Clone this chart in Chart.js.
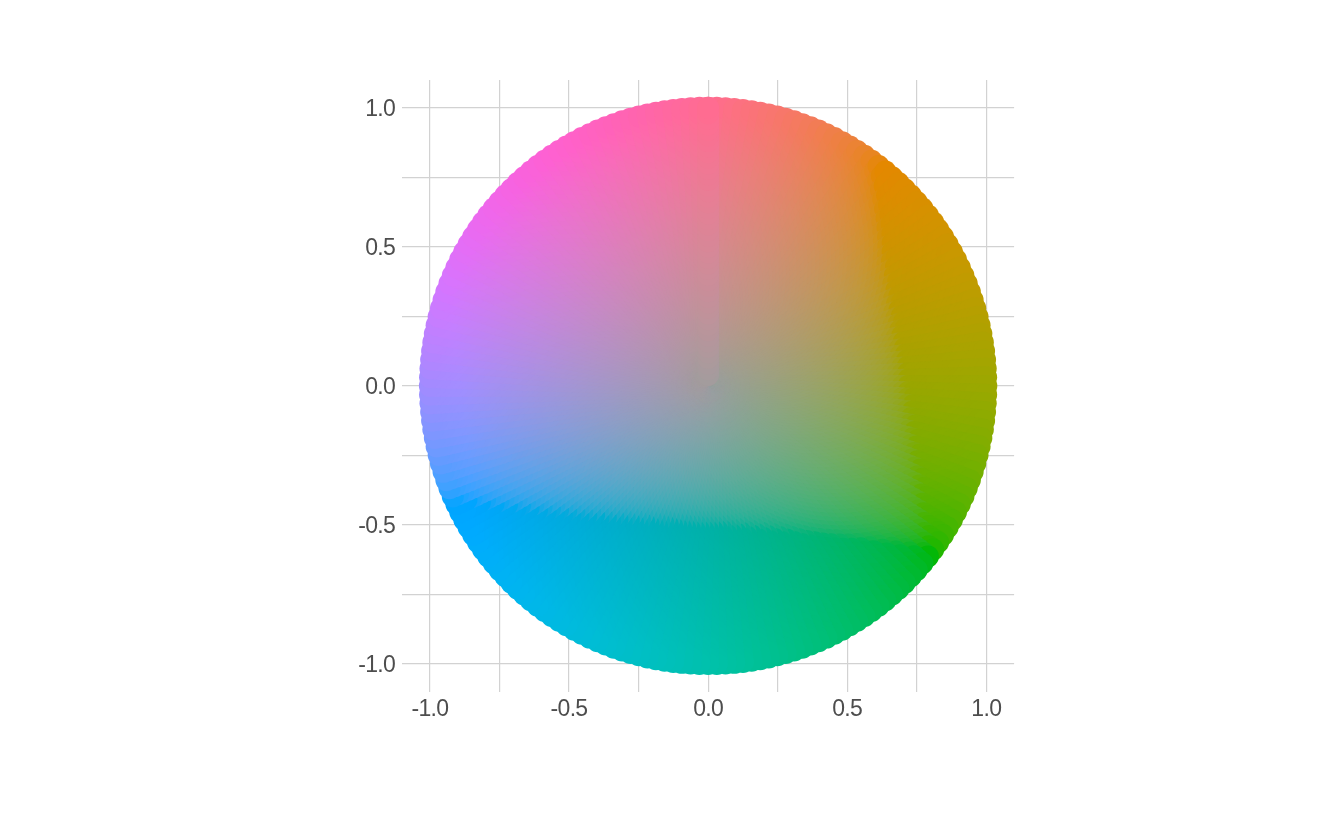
<!DOCTYPE html>
<html>
<head>
<meta charset="utf-8">
<style>html,body{margin:0;padding:0;background:#fff}#w{width:1344px;height:830px;position:relative}</style>
<script src="https://cdn.jsdelivr.net/npm/chart.js@4"></script>
</head>
<body>
<div id="w"><canvas id="c" width="1344" height="830"></canvas></div>
<script>
const hues = [0,1.8,3.6,5.4,7.2,9,10.8,12.6,14.4,16.2,18,19.8,21.6,23.4,25.2,27,28.8,30.6,32.4,34.2,36,37.8,39.6,41.4,43.2,45,46.8,48.6,50.4,52.2,54,55.8,57.6,59.4,61.2,63,64.8,66.6,68.4,70.2,72,73.8,75.6,77.4,79.2,81,82.8,84.6,86.4,88.2,90,91.8,93.6,95.4,97.2,99,100.8,102.6,104.4,106.2,108,109.8,111.6,113.4,115.2,117,118.8,120.6,122.4,124.2,126,127.8,129.6,131.4,133.2,135,136.8,138.6,140.4,142.2,144,145.8,147.6,149.4,151.2,153,154.8,156.6,158.4,160.2,162,163.8,165.6,167.4,169.2,171,172.8,174.6,176.4,178.2,180,181.8,183.6,185.4,187.2,189,190.8,192.6,194.4,196.2,198,199.8,201.6,203.4,205.2,207,208.8,210.6,212.4,214.2,216,217.8,219.6,221.4,223.2,225,226.8,228.6,230.4,232.2,234,235.8,237.6,239.4,241.2,243,244.8,246.6,248.4,250.2,252,253.8,255.6,257.4,259.2,261,262.8,264.6,266.4,268.2,270,271.8,273.6,275.4,277.2,279,280.8,282.6,284.4,286.2,288,289.8,291.6,293.4,295.2,297,298.8,300.6,302.4,304.2,306,307.8,309.6,311.4,313.2,315,316.8,318.6,320.4,322.2,324,325.8,327.6,329.4,331.2,333,334.8,336.6,338.4,340.2,342,343.8,345.6,347.4,349.2,351,352.8,354.6,356.4,358.2,360];
const chromas = [4,6,8,10,12,14,16,18,20,22,24,26,28,30,32,34,36,38,40,42,44,46,48,50,52,54,56,58,60,62,64,66,68,70,72,74,76,78,80,82,84,86,88,90,92,94,96,98,100];
const luminance = 65;
const tickValues = [-1,-0.75,-0.5,-0.25,0,0.25,0.5,0.75,1];
const tickLabels = ['-1.0','','-0.5','','0.0','','0.5','','1.0'];

function hclHex(h, c, l) {
  const un = 0.1978398, vn = 0.4683363, rad = h * Math.PI / 180;
  const U = c * Math.cos(rad), V = c * Math.sin(rad);
  const Y = 100 * Math.pow((l + 16) / 116, 3);
  const u = U / (13 * l) + un, v = V / (13 * l) + vn;
  const X = 9 * Y * u / (4 * v);
  const Z = -X / 3 - 5 * Y + 3 * Y / v;
  const x = X / 100, y = Y / 100, z = Z / 100;
  const lin = [3.240479 * x - 1.53715 * y - 0.498535 * z,
               -0.969256 * x + 1.875992 * y + 0.041556 * z,
               0.055648 * x - 0.204043 * y + 1.057311 * z];
  const ch = lin.map(t => {
    const g = t > 0.00304 ? 1.055 * Math.pow(t, 1 / 2.4) - 0.055 : 12.92 * t;
    return Math.round(255 * Math.min(1, Math.max(0, g)));
  });
  return 'rgb(' + ch.join(',') + ')';
}

const points = [], colours = [];
for (const h of hues) {
  for (const c of chromas) {
    const a = h * Math.PI / 180;
    points.push({x: c / 100 * Math.sin(a), y: c / 100 * Math.cos(a)});
    colours.push(hclHex(h, c, luminance));
  }
}

const font = {family: '"Liberation Sans"', size: 23};
const gridStyle = {color: '#d2d2d2', lineWidth: 1.2, drawTicks: false};
function axis(fit) {
  return {
    type: 'linear', min: -1.1, max: 1.1,
    grid: gridStyle, border: {display: false},
    afterBuildTicks: s => { s.ticks = tickValues.map(v => ({value: v})); },
    afterFit: fit,
    ticks: {
      color: '#4d4d4d', font, maxRotation: 0, autoSkip: false,
      callback: v => tickLabels[tickValues.indexOf(v)]
    }
  };
}
const xAxis = axis(s => { s.height = 40; });
xAxis.ticks.padding = 4;
const yAxis = axis(s => { s.width = 50; });
yAxis.ticks.padding = 7;

const labelFit = {
  id: 'labelFit',
  beforeDraw(chart) {
    chart.ctx.letterSpacing = '-0.7px';
    chart.scales.y.getLabelItems().forEach(i => { i.options.translation[1] = i.options.translation[1] + 2; });
  }
};

new Chart(document.getElementById('c'), {
  type: 'scatter',
  plugins: [labelFit],
  data: {datasets: [{
    data: points,
    pointRadius: 11,
    pointBorderWidth: 0,
    pointBackgroundColor: colours,
    clip: false
  }]},
  options: {
    responsive: false, animation: false, events: [], parsing: false,
    devicePixelRatio: 1,
    layout: {padding: {left: 352.1, right: 329.9, top: 79.9, bottom: 98.1}},
    plugins: {legend: {display: false}, tooltip: {enabled: false}},
    scales: {x: xAxis, y: yAxis}
  }
});
</script>
</body>
</html>
